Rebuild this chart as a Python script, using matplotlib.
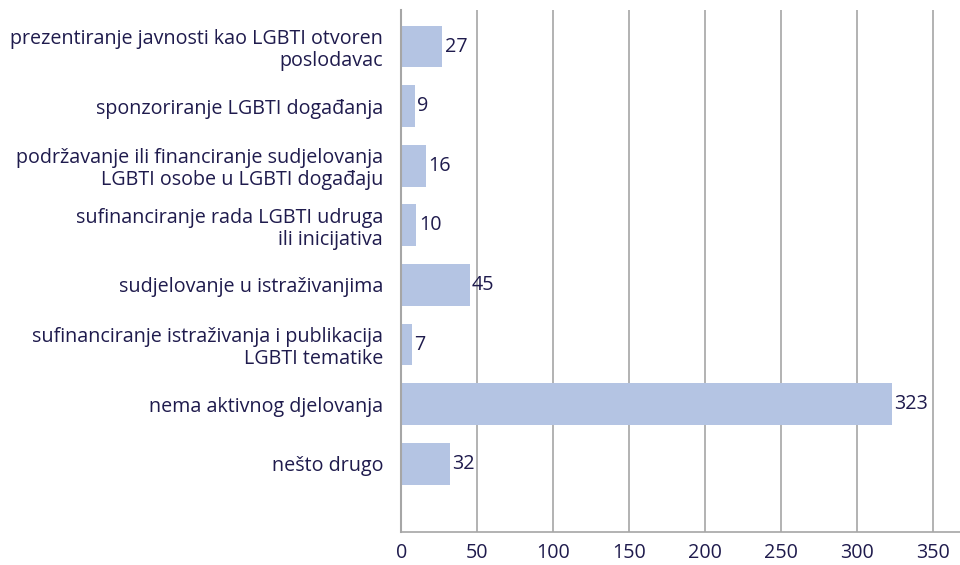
import matplotlib.pyplot as plt

categories = [
    "prezentiranje javnosti kao LGBTI otvoren\nposlodavac",
    "sponzoriranje LGBTI događanja",
    "podržavanje ili financiranje sudjelovanja\nLGBTI osobe u LGBTI događaju",
    "sufinanciranje rada LGBTI udruga\nili inicijativa",
    "sudjelovanje u istraživanjima",
    "sufinanciranje istraživanja i publikacija\nLGBTI tematike",
    "nema aktivnog djelovanja",
    "nešto drugo",
]
counts = [27, 9, 16, 10, 45, 7, 323, 32]
xticks = [0, 50, 100, 150, 200, 250, 300, 350]

TEXT = "#1f1b4d"
BAR = "#b4c4e3"
GRID = "#a6a6a6"
FS = 14.2

plt.rcParams['font.family'] = ['Open Sans', 'DejaVu Sans']

fig = plt.figure(figsize=(9.6, 5.65), dpi=100)
ax = fig.add_axes([0.418, 0.058, 0.582, 0.925])

y = list(range(len(categories)))
ax.barh(y, counts, height=0.7, color=BAR, zorder=2)
for yi, v in zip(y, counts):
    ax.text(v + 1.5, yi, str(v), va='center', ha='left', fontsize=FS, color=TEXT, zorder=3)

ax.set_ylim(8.15, -0.62)
ax.set_xlim(0, 368)
ax.set_xticks(xticks)
ax.set_yticks(y)
ax.set_yticklabels(categories, fontsize=FS, color=TEXT, linespacing=1.15)
ax.tick_params(axis='y', length=0, pad=13)
ax.tick_params(axis='x', length=0, pad=8, labelsize=FS, labelcolor=TEXT)
for lbl in ax.get_yticklabels():
    lbl.set_multialignment('right')

ax.grid(axis='x', color=GRID, linewidth=1.2, zorder=0)
for side in ['top', 'right']:
    ax.spines[side].set_visible(False)
ax.spines['left'].set_color(GRID)
ax.spines['left'].set_linewidth(1.5)
ax.spines['bottom'].set_color(GRID)
ax.spines['bottom'].set_linewidth(1.2)

fig.savefig("out.png", dpi=100)
